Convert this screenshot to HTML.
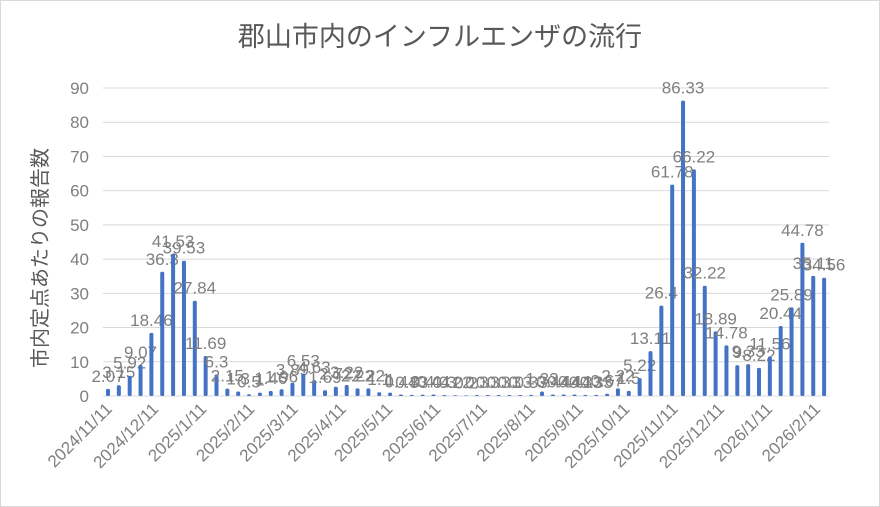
<!DOCTYPE html>
<html><head><meta charset="utf-8"><style>
html,body{margin:0;padding:0;background:#fff;}
svg{display:block;font-family:"Liberation Sans","Noto Sans CJK JP",sans-serif;}
</style></head><body>
<svg id="c" width="880" height="507" xmlns="http://www.w3.org/2000/svg">
<rect x="0.5" y="0.5" width="879" height="506" fill="#fff" stroke="#d9d9d9"/>
<text x="440" y="46" text-anchor="middle" font-size="27" fill="#595959">郡山市内のインフルエンザの流行</text>
<text transform="translate(47,258) rotate(-90)" text-anchor="middle" font-size="20" fill="#595959">市内定点あたりの報告数</text>
<g id="g"></g>
</svg>
<script>
var vals=[2.07,3.15,5.92,9.07,18.46,36.3,41.53,39.53,27.84,11.69,6.3,2.15,1.3,0.5,1.0,1.46,1.96,3.89,6.53,4.63,1.69,2.72,3.22,2.22,2.22,1.1,1.0,0.44,0.33,0.4,0.44,0.3,0.22,0.2,0.3,0.3,0.3,0.3,0.3,0.33,1.33,0.44,0.44,0.44,0.33,0.33,0.67,2.22,1.5,5.22,13.11,26.4,61.78,86.33,66.22,32.22,18.89,14.78,9,9.33,8.22,11.56,20.44,25.89,44.78,35.11,34.56];
var g=document.getElementById('g'),s='';
var y0=396,k=3.422,x0=108,dx=10.85;
for(var i=0;i<=9;i++){var y=y0-i*10*k;
s+='<line x1="103" x2="829" y1="'+y+'" y2="'+y+'" stroke="#d9d9d9" stroke-width="1"/>';
s+='<text x="89" y="'+(y+6)+'" text-anchor="end" font-size="17" fill="#7f7f7f">'+(i*10)+'</text>';}
for(var i=0;i<vals.length;i++){var x=x0+i*dx,h=vals[i]*k;
s+='<rect x="'+(x-2)+'" y="'+(y0-h)+'" width="4" height="'+h+'" rx="1.5" fill="#4472c4"/>';
s+='<text x="'+x+'" y="'+(y0-h-7)+'" text-anchor="middle" font-size="17" fill="#7f7f7f">'+vals[i]+'</text>';}
var labs=['2024/11/11','2024/12/11','2025/1/11','2025/2/11','2025/3/11','2025/4/11','2025/5/11','2025/6/11','2025/7/11','2025/8/11','2025/9/11','2025/10/11','2025/11/11','2025/12/11','2026/1/11','2026/2/11'];
var d0=Date.UTC(2024,10,11);
for(var i=0;i<labs.length;i++){var p=labs[i].split('/');var d=(Date.UTC(+p[0],p[1]-1,+p[2])-d0)/864e5/7;var x=x0+d*dx;
s+='<text transform="translate('+(x+5)+',410) rotate(-45)" text-anchor="end" font-size="17" fill="#7f7f7f">'+labs[i]+'</text>';}
g.innerHTML=s;
</script>
</body></html>
